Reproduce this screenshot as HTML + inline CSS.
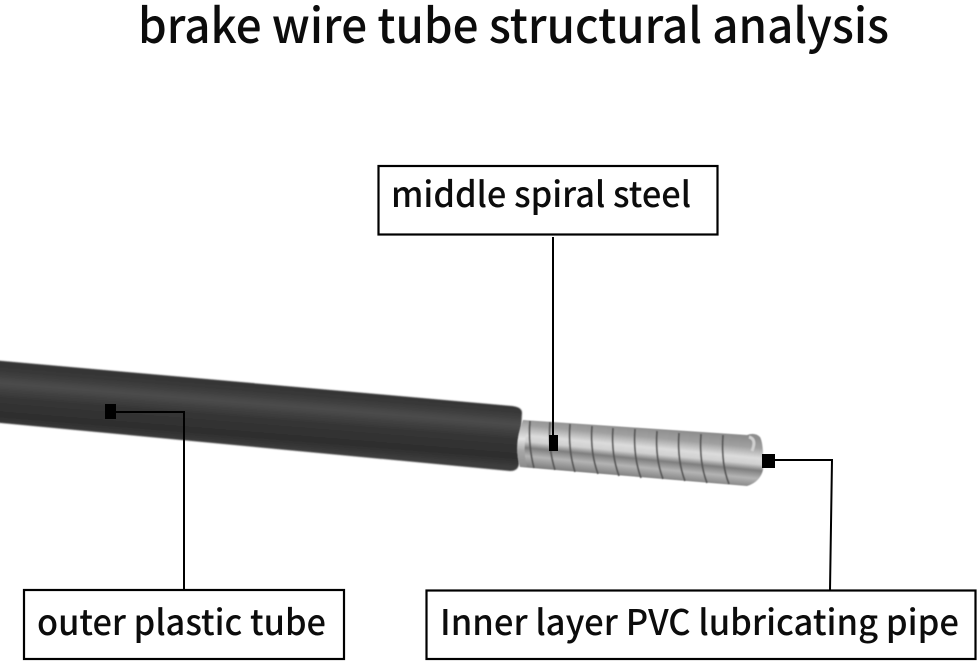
<!DOCTYPE html>
<html><head><meta charset="utf-8"><style>
html,body{margin:0;padding:0;background:#fff}
svg{display:block}
text{font-family:"Noto Sans CJK SC","Liberation Sans",sans-serif;fill:#0c0c0c;font-weight:500}
</style></head><body>
<svg width="979" height="663" viewBox="0 0 979 663" xmlns="http://www.w3.org/2000/svg">
<defs>
<linearGradient id="t" gradientUnits="userSpaceOnUse" x1="260" y1="384" x2="255" y2="446">
<stop offset="0" stop-color="#343434"/><stop offset=".12" stop-color="#383838"/><stop offset=".32" stop-color="#4c4c4c"/><stop offset=".55" stop-color="#363636"/><stop offset=".85" stop-color="#2d2d2d"/><stop offset="1" stop-color="#3c3c3c"/>
</linearGradient>
<linearGradient id="s" gradientUnits="userSpaceOnUse" x1="640" y1="427" x2="635" y2="478">
<stop offset="0" stop-color="#8e8e8e"/><stop offset=".18" stop-color="#a0a0a0"/><stop offset=".38" stop-color="#dcdcdc"/><stop offset=".5" stop-color="#d0d0d0"/><stop offset=".62" stop-color="#7e7e7e"/><stop offset=".78" stop-color="#b4b4b4"/><stop offset="1" stop-color="#7c7c7c"/>
</linearGradient>
<linearGradient id="lip" gradientUnits="userSpaceOnUse" x1="522" y1="420" x2="520" y2="467">
<stop offset="0" stop-color="#9a9a9a"/><stop offset=".4" stop-color="#e4e4e4"/><stop offset=".65" stop-color="#a8a8a8"/><stop offset="1" stop-color="#8c8c8c"/>
</linearGradient>
<filter id="b" x="-2%" y="-10%" width="104%" height="120%"><feGaussianBlur stdDeviation="0.9"/></filter>
<filter id="b2" x="-5%" y="-5%" width="110%" height="110%"><feGaussianBlur stdDeviation="0.6"/></filter>
</defs>
<rect width="979" height="663" fill="#fff"/>
<text x="138" y="43" font-size="48" textLength="751" lengthAdjust="spacingAndGlyphs">brake wire tube structural analysis</text>

<path d="M-20 359 L512 406 Q522 407 522 413 L519 464 Q518 471 510 471 L-20 421 Z" fill="url(#t)" filter="url(#b)"/>

<g filter="url(#b2)">
<path d="M523 420 L747 435 Q755 432 760 437 Q764 444 763 470 Q760 482 747 486 L520 467 Q513 445 523 420 Z" fill="url(#s)"/>
<path d="M523 420 Q513 445 520 467 L527 467 Q521 445 530 421 Z" fill="url(#lip)"/>
<g fill="none" stroke="#505050" stroke-width="1.800" opacity=".9">
<path d="M530 421 Q528 445 534 468"/>
<path d="M550 422 Q548 448 555 470"/>
<path d="M570 424 Q568 450 575 472"/>
<path d="M592 426 Q590 452 598 474"/>
<path d="M613 428 Q611 454 619 476"/>
<path d="M635 429 Q633 456 641 478"/>
<path d="M657 431 Q655 458 663 479"/>
<path d="M679 433 Q677 460 685 481"/>
<path d="M701 434 Q699 462 707 483"/>
<path d="M723 435 Q721 464 729 484"/>
</g>
<path d="M749 437 Q757 439 752 451" fill="none" stroke="#d0d0d0" stroke-width="3"/>
</g>

<g fill="none" stroke="#000" stroke-width="2.200">
<rect x="378.500" y="166" width="339" height="68.500"/>
<rect x="24" y="590" width="320" height="69"/>
<rect x="426.500" y="590.500" width="549" height="68.500"/>
</g>
<g fill="none" stroke="#000" stroke-width="2">
<path d="M553 237 V440"/>
<path d="M112 412 H184 V590"/>
<path d="M772 460 H832 L830 590"/>
</g>
<rect x="549" y="435" width="9" height="16" fill="#000"/>
<rect x="105" y="404" width="11" height="15" fill="#000"/>
<rect x="762" y="454" width="13" height="14" fill="#000"/>

<text x="391" y="207" font-size="35" textLength="300" lengthAdjust="spacingAndGlyphs">middle spiral steel</text>
<text x="37" y="635" font-size="35" textLength="289" lengthAdjust="spacingAndGlyphs">outer plastic tube</text>
<text x="440" y="635" font-size="35" textLength="519" lengthAdjust="spacingAndGlyphs">Inner layer PVC lubricating pipe</text>
</svg>
</body></html>
